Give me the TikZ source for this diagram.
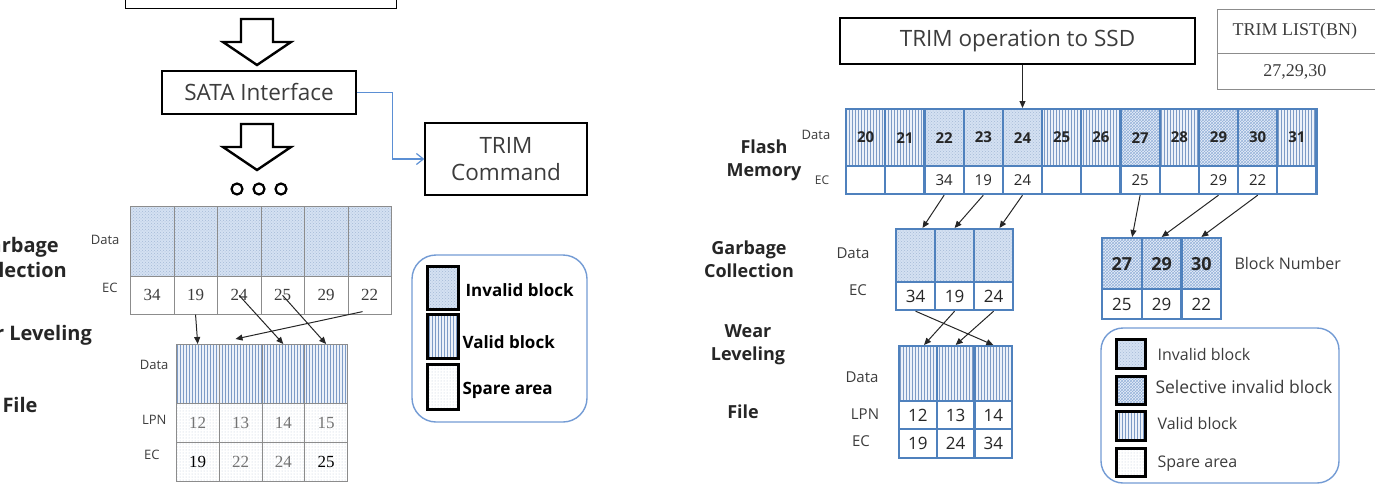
\documentclass[tikz,border=0pt]{standalone}
\usepackage{fontspec}
\setmainfont{Open Sans}
\newfontfamily\numserif{Liberation Serif}
\usetikzlibrary{arrows.meta, patterns, calc}

\definecolor{cellblue}{RGB}{79,129,189}
\definecolor{invfill}{RGB}{212,225,242}
\definecolor{invdot}{RGB}{165,185,215}
\definecolor{validfill}{RGB}{236,241,249}
\definecolor{validline}{RGB}{125,155,198}
\definecolor{selfill}{RGB}{232,239,249}
\definecolor{selline}{RGB}{150,178,218}
\definecolor{sparedot}{RGB}{190,200,218}
\definecolor{linkblue}{RGB}{91,143,212}
\definecolor{keyblue}{RGB}{115,155,212}
\definecolor{textgray}{RGB}{60,60,60}

\tikzset{
  bigbox/.style={draw, line width=1.3pt, inner sep=0pt, text=textgray, font=\fontsize{22.5}{27}\selectfont},
  sidelab/.style={font=\bfseries\fontsize{18}{23}\selectfont, align=center, text=black!85},
  rowlab/.style={font=\fontsize{13}{15}\selectfont, text=textgray},
  fcell/.style={draw=cellblue, line width=2.2pt, inner sep=0pt, anchor=north west, text=black!85},
  gcell/.style={draw=black!45, line width=0.6pt, inner sep=0pt, anchor=north west},
  invalid/.style={preaction={fill=invfill}, pattern=crosshatch dots, pattern color=invdot},
  valid/.style={preaction={fill=validfill}, pattern=vertical lines, pattern color=validline},
  selective/.style={preaction={fill=selfill}, pattern=crosshatch, pattern color=selline},
  spare/.style={preaction={fill=white}, pattern=dots, pattern color=sparedot},
  flow/.style={-{Triangle[length=7pt,width=6pt]}, line width=1pt, black!85},
  keybox/.style={draw=black, line width=2.6pt, inner sep=0pt, anchor=north west}
}

\begin{document}
\begin{tikzpicture}[x=1pt, y=-1pt]
  \useasboundingbox (0,0) rectangle (1375,495);
  \clip (0,0) rectangle (1375,495);

  % host side (left)
  \node[bigbox, minimum width=271, minimum height=50, anchor=south west] (osbox) at (125,9) {};
  \foreach \ty in {19,124}
    \draw[line width=2.4pt, fill=white, line join=miter] (241,\ty) -- (273,\ty) -- (273,{\ty+23}) -- (291,{\ty+23})
      -- (257,{\ty+46}) -- (223,{\ty+23}) -- (241,{\ty+23}) -- cycle;
  \node[bigbox, minimum width=194, minimum height=43] (sata) at (259,92.5) {SATA Interface};
  \node[bigbox, minimum width=162, minimum height=72, align=center] (trimcmd) at (506,159) {TRIM\\Command};
  \draw[linkblue, line width=1.2pt, -{Straight Barb[length=7pt,width=11pt]}] (sata.east) -- ++(36,0) |- (trimcmd.west);
  \foreach \cx in {237,259,281}
    \draw[line width=2.2pt] (\cx,189) circle[radius=5.5pt];

  \node[sidelab, font=\bfseries\fontsize{20}{25}\selectfont] (lgclab) at (17,257) {Garbage\\Collection};
  \node[sidelab, font=\bfseries\fontsize{20}{25}\selectfont] (lwllab) at (22,335) {Wear Leveling};
  \node[sidelab, font=\bfseries\fontsize{20}{25}\selectfont] (lfilelab) at (20,405) {File};

  % garbage collection blocks
  \foreach \ec [count=\k] in {34,19,24,25,29,22} {
    \node[gcell, invalid, minimum width=43.5, minimum height=70] (lgd\k) at ({130+43.5*(\k-1)},206) {};
    \node[gcell, minimum width=43.5, minimum height=38, font=\numserif\fontsize{17}{20}\selectfont, text=textgray] (lge\k) at ({130+43.5*(\k-1)},276) {\ec};
  }
  \node[rowlab, anchor=east] (lgdata) at (123,240) {Data};
  \node[rowlab, anchor=east] (lgec) at (121,288) {EC};

  % file blocks
  \foreach \lpn/\ec/\ecc [count=\k] in {12/19/black,13/22/black!55,14/24/black!55,15/25/black} {
    \node[gcell, valid, minimum width=42.8, minimum height=59] (lfd\k) at ({176+42.8*(\k-1)},344) {};
    \node[gcell, spare, minimum width=42.8, minimum height=39, font=\numserif\fontsize{17}{20}\selectfont, text=black!55] (lfl\k) at ({176+42.8*(\k-1)},403) {\lpn};
    \node[gcell, spare, minimum width=42.8, minimum height=39, font=\numserif\fontsize{17}{20}\selectfont, text=\ecc] (lfe\k) at ({176+42.8*(\k-1)},442) {\ec};
  }
  \node[rowlab, anchor=east] (lfdata) at (172,365) {Data};
  \node[rowlab, anchor=east] (lflpn) at (170,420) {LPN};
  \node[rowlab, anchor=east] (lfec) at (163,455) {EC};

  \draw[flow] (lge2.south) -- (lfd1.north);
  \draw[flow] ($(lge6.south)+(-7,-3)$) -- ($(lfd2.north)+(-5,-5)$);
  \draw[flow] (lge3.center) -- (lfd3.north);
  \draw[flow] (lge4.center) -- (lfd4.north);

  % legend (left)
  \draw[keyblue, line width=1.4pt, rounded corners=24pt] (412,255) rectangle (587,422);
  \node[keybox, invalid, minimum width=31, minimum height=43] (lkey1) at (426,265) {};
  \node[keybox, valid, minimum width=31, minimum height=44] (lkey2) at (426,313) {};
  \node[keybox, spare, minimum width=31, minimum height=45] (lkey3) at (426,363) {};
  \node[anchor=west, font=\bfseries\fontsize{17}{20}\selectfont] (lkeyt1) at (462,290) {Invalid block};
  \node[anchor=west, font=\bfseries\fontsize{17}{20}\selectfont] (lkeyt2) at (459,342) {Valid block};
  \node[anchor=west, font=\bfseries\fontsize{17}{20}\selectfont] (lkeyt3) at (459,390) {Spare area};

  % SSD side (right)
  \node[bigbox, minimum width=355, minimum height=46] (trimop) at (1017.5,41) {TRIM operation to SSD};
  \node[draw=black!45, line width=0.8pt, minimum width=175, minimum height=44, anchor=north west,
    font=\numserif\fontsize{18}{22}\selectfont, text=textgray] (tlhead) at (1217,9) {\hspace*{-20pt}TRIM LIST(BN)};
  \node[draw=black!45, line width=0.8pt, minimum width=175, minimum height=36, anchor=north west,
    font=\numserif\fontsize{18}{22}\selectfont, text=textgray] (tlbody) at (1217,53) {\hspace*{-20pt}27,29,30};

  \node[sidelab] (flashlab) at (764,160) {Flash\\Memory};
  \node[sidelab] (rgclab) at (749,259) {Garbage\\Collection};
  \node[sidelab] (rwllab) at (748,345) {Wear\\Leveling};
  \node[sidelab] (rfilelab) at (743,412) {File};

  % flash memory
  \foreach \bn/\kind/\ec [count=\k from 0] in {20/valid/{},21/valid/{},22/invalid/34,23/invalid/19,24/invalid/24,25/valid/{},
      26/valid/{},27/selective/25,28/valid/{},29/selective/29,30/selective/22,31/valid/{}} {
    \node[fcell, \kind, minimum width=39.2, minimum height=57, font=\bfseries\fontsize{15}{18}\selectfont] (fm\bn) at ({845+39.2*\k},108) {\bn};
    \node[fcell, fill=white, minimum width=39.2, minimum height=28, font=\fontsize{15}{18}\selectfont] (fe\bn) at ({845+39.2*\k},165) {\ec};
  }
  \node[rowlab] (fmdata) at (816,135) {Data};
  \node[rowlab, font=\fontsize{12}{14}\selectfont] (fmec) at (822,180) {EC};
  \draw[flow] (trimop.south -| fm24.north) -- (fm24.north);

  % garbage collection
  \foreach \ec [count=\k] in {34,19,24} {
    \node[fcell, invalid, minimum width=39, minimum height=53] (rgd\k) at ({895+39*(\k-1)},228) {};
    \node[fcell, fill=white, minimum width=39, minimum height=28, font=\fontsize{17}{20}\selectfont] (rge\k) at ({895+39*(\k-1)},281) {\ec};
  }
  \node[rowlab, font=\fontsize{15}{18}\selectfont] (rgdata) at (853,253) {Data};
  \node[rowlab, font=\fontsize{15}{18}\selectfont] (rgec) at (858,290) {EC};

  % trimmed blocks
  \foreach \bn/\ec [count=\k] in {27/25,29/29,30/22} {
    \node[fcell, selective, minimum width=39.7, minimum height=51, font=\bfseries\fontsize{18}{21}\selectfont] (sd\k) at ({1101+39.7*(\k-1)},237) {\bn};
    \node[fcell, fill=white, minimum width=39.7, minimum height=30, font=\fontsize{17}{20}\selectfont] (se\k) at ({1101+39.7*(\k-1)},288) {\ec};
  }
  \node[rowlab, anchor=west, font=\fontsize{16}{19}\selectfont] (bnlab) at (1231,263) {Block Number};

  \draw[flow] (fe22.south) -- (rgd1.76);
  \draw[flow] (fe23.south) -- (rgd2.north);
  \draw[flow] (fe24.south) -- (rgd3.78);
  \draw[flow] (fe27.south) -- (sd1.69);
  \draw[flow] (fe29.south) -- (sd2.north);
  \draw[flow] (fe30.south) -- (sd3.north);

  % file
  \foreach \lpn/\ec [count=\k] in {12/19,13/24,14/34} {
    \node[fcell, valid, minimum width=37.7, minimum height=55] (rfd\k) at ({898+37.7*(\k-1)},345) {};
    \node[fcell, fill=white, minimum width=37.7, minimum height=28, font=\fontsize{17}{20}\selectfont] (rfl\k) at ({898+37.7*(\k-1)},400) {\lpn};
    \node[fcell, fill=white, minimum width=37.7, minimum height=29, font=\fontsize{17}{20}\selectfont] (rfe\k) at ({898+37.7*(\k-1)},428) {\ec};
  }
  \node[rowlab, font=\fontsize{15}{18}\selectfont] (rfdata) at (862,377) {Data};
  \node[rowlab, font=\fontsize{15}{18}\selectfont] (rflpn) at (865,414) {LPN};
  \node[rowlab, font=\fontsize{15}{18}\selectfont] (rfec) at (861,441) {EC};

  \draw[flow] (rge1.south) -- (rfd3.north);
  \draw[flow] (rge2.south) -- (rfd1.78);
  \draw[flow] (rge3.south) -- (rfd2.north);

  % legend (right)
  \draw[keyblue, line width=1.4pt, rounded corners=22pt] (1101,328) rectangle (1339,483);
  \node[keybox, invalid, minimum width=29, minimum height=29] (rkey1) at (1115,338) {};
  \node[keybox, selective, minimum width=29, minimum height=28] (rkey2) at (1115,375) {};
  \node[keybox, valid, minimum width=29, minimum height=29] (rkey3) at (1115,410) {};
  \node[keybox, spare, minimum width=29, minimum height=28] (rkey4) at (1115,447) {};
  \node[rowlab, anchor=west, font=\fontsize{16}{19}\selectfont] (rkeyt1) at (1154,354) {Invalid block};
  \node[rowlab, anchor=west, font=\fontsize{17.5}{21}\selectfont] (rkeyt2) at (1152,387) {Selective invalid block};
  \node[rowlab, anchor=west, font=\fontsize{16}{19}\selectfont] (rkeyt3) at (1154,423) {Valid block};
  \node[rowlab, anchor=west, font=\fontsize{16}{19}\selectfont] (rkeyt4) at (1154,464) {Spare area};
\end{tikzpicture}
\end{document}
